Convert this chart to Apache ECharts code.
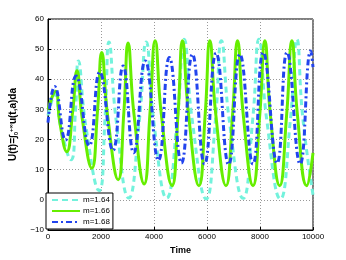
<!DOCTYPE html>
<html><head><meta charset="utf-8">
<script src="https://cdn.jsdelivr.net/npm/echarts@6/dist/echarts.min.js"></script>
<style>html,body{margin:0;padding:0;background:#fff}#c{width:346px;height:260px}</style>
</head><body><div id="c"></div>
<script>
var seriesNames = ['m=1.64', 'm=1.66', 'm=1.68'];
var xTicks = [0, 2000, 4000, 6000, 8000, 10000];
var yTicks = [-10, 0, 10, 20, 30, 40, 50, 60];

var tCyan = [0, 270, 486, 870, 1038, 1145, 1427, 1929, 2156, 2301, 2570, 3047, 3449, 3706, 3984, 4478, 4880, 5137, 5437, 5970, 6319, 6542, 6837, 7362, 7727, 7960, 8251, 8769, 9149, 9392, 9611, 10000];
var vCyan = [28, 35, 24, 13.3, 29.7, 46.1, 24.5, 3, 27.7, 52.4, 26.5, 0.6, 26.5, 52.4, 26.5, 0.6, 27, 53.3, 26.8, 0.3, 26.5, 52.8, 26.6, 0.5, 26.9, 53.3, 26.8, 0.3, 26.8, 53.3, 27.5, 1.7];

var tGreen = [0, 287, 439, 709, 932, 1094, 1296, 1654, 1870, 2027, 2251, 2649, 2865, 3022, 3241, 3630, 3850, 4042, 4272, 4680, 4909, 5075, 5299, 5697, 5935, 6107, 6326, 6716, 6969, 7152, 7362, 7736, 7996, 8184, 8385, 8743, 9010, 9204, 9406, 9765, 10000];
var vGreen = [30, 36, 26, 16, 29.4, 42.8, 26.7, 10.5, 29.7, 48.9, 27.8, 6.7, 29.4, 52, 28.7, 5.3, 29, 52.8, 28.8, 4.7, 28.8, 52.8, 28.8, 4.7, 28.8, 52.8, 28.8, 4.7, 28.8, 52.8, 28.8, 4.7, 28.8, 52.8, 28.8, 4.7, 28.8, 52.8, 28.8, 4.7, 15.6];

var tBlue = [0, 250, 660, 1057, 1555, 1952, 2451, 2836, 3234, 3669, 4167, 4578, 5037, 5448, 5907, 6343, 6817, 7239, 7735, 8123, 8644, 9019, 9515, 9914, 10000];
var vBlue = [25.6, 37.6, 19.8, 41.1, 18, 42.4, 16.4, 44.4, 15.6, 46.1, 13.1, 47.2, 12.2, 48.3, 11.9, 48.7, 11.7, 48.3, 11.9, 48.9, 12.2, 48.9, 11.9, 49.4, 44];

function zip(t, v) { return t.map(function (x, i) { return [x, v[i]]; }); }

var chart = echarts.init(document.getElementById('c'), null, {renderer: 'canvas'});
var font = 'Liberation Sans, Arial, sans-serif';
chart.setOption({
  animation: false,
  backgroundColor: '#fff',
  grid: {left: 45, right: 33, top: 19, bottom: 30, show: true, borderColor: '#000', borderWidth: 1, backgroundColor: 'transparent'},
  xAxis: {
    type: 'value', min: xTicks[0], max: xTicks[xTicks.length - 1], interval: 2000,
    name: 'Time', nameLocation: 'middle', nameGap: 13,
    nameTextStyle: {fontFamily: font, fontSize: 9, fontWeight: 'bold', color: '#000'},
    axisLine: {show: true, onZero: false, lineStyle: {color: '#000', width: 1}},
    axisTick: {show: true, inside: true, length: 3, lineStyle: {color: '#000'}},
    axisLabel: {fontFamily: font, fontSize: 8, color: '#000', margin: 3, formatter: function (v) { return String(v); }},
    splitLine: {show: true, lineStyle: {color: '#999', type: [1, 2], width: 1}}
  },
  yAxis: {
    type: 'value', min: yTicks[0], max: yTicks[yTicks.length - 1], interval: 10,
    name: 'U(t)=\u222B{sub|0}{sup|+\u221E}u(t,a)da', nameLocation: 'middle', nameGap: 29, nameRotate: 90,
    nameTextStyle: {fontFamily: font, fontSize: 10, fontWeight: 'bold', color: '#000',
      rich: {sub: {fontSize: 6, fontWeight: 'bold', verticalAlign: 'bottom', padding: [5, 0, 0, 0]}, sup: {fontSize: 6, fontWeight: 'bold', padding: [0, 0, 5, 0]}}},
    axisLine: {show: true, onZero: false, lineStyle: {color: '#000', width: 1}},
    axisTick: {show: true, inside: true, length: 3, lineStyle: {color: '#000'}},
    axisLabel: {fontFamily: font, fontSize: 8, color: '#000', margin: 4,
      formatter: function (v) { return v < 0 ? '\u2212' + Math.abs(v) : String(v); }},
    splitLine: {show: true, lineStyle: {color: '#999', type: [1, 2], width: 1}}
  },
  legend: {
    orient: 'vertical', left: 46, bottom: 31, itemGap: 3, itemWidth: 28, itemHeight: 8,
    padding: [3, 3, 3, 5],
    backgroundColor: '#fff', borderColor: '#000', borderWidth: 1, borderRadius: 0,
    itemStyle: {opacity: 0},
    textStyle: {fontFamily: font, fontSize: 8, color: '#000', padding: [0, 0, 0, -2]},
    data: seriesNames
  },
  series: [
    {name: seriesNames[0], type: 'line', data: zip(tCyan, vCyan), smooth: 0.5, showSymbol: false, symbol: 'none',
      lineStyle: {color: '#73F2DC', width: 3, type: [6, 4]}, itemStyle: {color: '#73F2DC'}, z: 2},
    {name: seriesNames[1], type: 'line', data: zip(tGreen, vGreen), smooth: 0.5, showSymbol: false, symbol: 'none',
      lineStyle: {color: '#66EE00', width: 3}, itemStyle: {color: '#66EE00'}, z: 3},
    {name: seriesNames[2], type: 'line', data: zip(tBlue, vBlue), smooth: 0.5, showSymbol: false, symbol: 'none',
      lineStyle: {color: '#2244EE', width: 3, type: [6, 3, 2, 3]}, itemStyle: {color: '#2244EE'}, z: 4}
  ]
});
</script></body></html>
